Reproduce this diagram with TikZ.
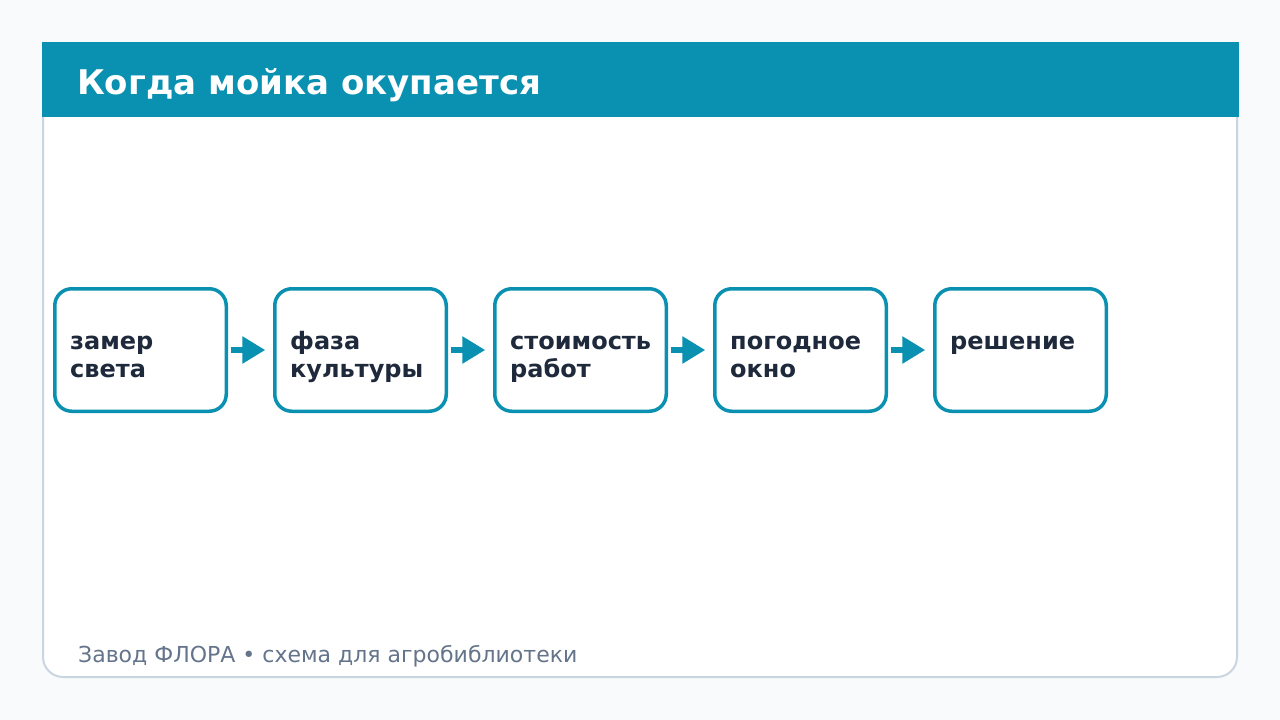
\documentclass[tikz,border=0pt]{standalone}
\usepackage{fontspec}
\setmainfont{DejaVu Sans}
\usepackage{xcolor}
\usetikzlibrary{arrows.meta}
\definecolor{pagebg}{HTML}{F8FAFC}
\definecolor{teal}{HTML}{0A91B1}
\definecolor{ink}{HTML}{1E293B}
\definecolor{muted}{HTML}{64748B}
\definecolor{rim}{HTML}{CBD5E1}
\tikzset{
  stepbox/.style={
    draw=teal,
    line width=3.5pt,
    fill=white,
    rounded corners=17pt,
    minimum width=171.5pt,
    minimum height=122.5pt,
    outer sep=0pt,
    inner sep=0pt},
  steptext/.style={
    anchor=north west,
    inner sep=0pt,
    align=left,
    text=ink,
    font=\fontsize{24}{28}\selectfont\bfseries},
  flow/.style={
    draw=teal,
    line width=6pt,
    -{Triangle[length=23pt,width=26pt]},
    shorten <=5.2pt,
    shorten >=9.5pt}
  }

\begin{document}
\begin{tikzpicture}[x=1pt,y=-1pt]
		\useasboundingbox[fill=pagebg] (0,0) rectangle (1280,720);
		\draw[rim, line width=2pt, fill=white, rounded corners=20pt] (43,44) rectangle (1237,677);
		\fill[teal] (42,42) rectangle (1239,117);
		\node[anchor=base west, inner sep=0pt, text=white, font=\fontsize{34}{40}\selectfont\bfseries] (title) at (77,94) {Когда мойка окупается};
		\node[anchor=base west, inner sep=0pt, text=muted, font=\fontsize{22}{26}\selectfont] (foot) at (78,662) {Завод ФЛОРА • схема для агробиблиотеки};
		\node[stepbox] (light) at (140.5,350) {};
		\node[stepbox] (phase) at (360.5,350) {};
		\node[stepbox] (cost) at (580.5,350) {};
		\node[stepbox] (weather) at (800.5,350) {};
		\node[stepbox] (verdict) at (1020.5,350) {};
		\node[steptext] (lighttext) at (70,329.4) {\strut замер\\\strut света};
		\node[steptext] (phasetext) at (290,329.4) {\strut фаза\\\strut культуры};
		\node[steptext] (costtext) at (510,329.4) {\strut стоимость\\\strut работ};
		\node[steptext] (weathertext) at (730,329.4) {\strut погодное\\\strut окно};
		\node[steptext] (verdicttext) at (950,329.4) {\strut решение};
		\draw[flow] (light) -- (phase);
		\draw[flow] (phase) -- (cost);
		\draw[flow] (cost) -- (weather);
		\draw[flow] (weather) -- (verdict);
	\end{tikzpicture}
\end{document}
